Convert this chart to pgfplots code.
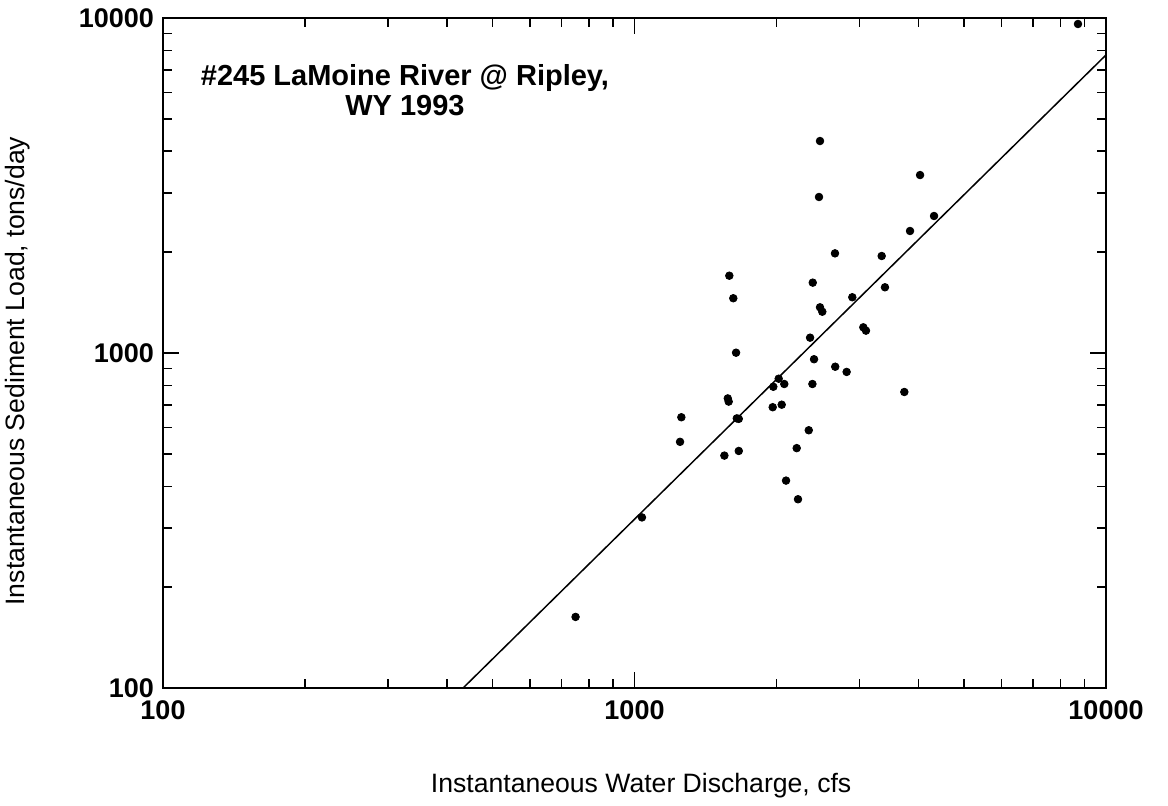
\documentclass[border=0pt]{standalone}
\usepackage{fontspec}
\setmainfont{Liberation Sans}
\usepackage{pgfplots}
\pgfplotsset{compat=1.18}
\begin{document}
\begin{tikzpicture}
\begin{axis}[
  name=ax,
  scale only axis, width=471.5pt, height=335pt,
  xmode=log, ymode=log,
  xmin=100, xmax=10000, ymin=100, ymax=10000,
  xtick={100,1000,10000}, xticklabels={100,1000,10000},
  ytick={100,1000,10000}, yticklabels={100,1000,10000},
  minor xtick={200,300,400,500,600,700,800,900,2000,3000,4000,5000,6000,7000,8000,9000},
  minor ytick={200,300,400,500,600,700,800,900,2000,3000,4000,5000,6000,7000,8000,9000},
  tick align=inside,
  major tick length=8pt, minor tick length=4.5pt,
  axis line style={line width=1pt},
  every tick/.style={black, line width=0.8pt},
  tick label style={font=\fontsize{13.5}{16}\selectfont\bfseries},
  xticklabel style={yshift=-3pt},
  yticklabel style={xshift=-1pt},
  xlabel={Instantaneous Water Discharge, cfs},
  ylabel={Instantaneous Sediment Load, tons/day},
  label style={font=\fontsize{13.3}{15}\selectfont},
  xlabel style={at={(axis description cs:0.507,-0.145)}, anchor=center},
  ylabel style={at={(axis description cs:-0.1538,0.473)}, anchor=center, rotate=0},
  clip=true,
]
\addplot[only marks, mark=*, mark size=1.9pt, black] coordinates {
(2474,4293) (4033,3398) (2462,2922) (4318,2564) (3841,2313) (8721,9596)
(2662,1984) (3344,1948) (1589,1701) (2388,1622) (1620,1457) (3398,1571)
(2897,1467) (2474,1369) (2502,1328) (3057,1193) (3097,1166) (2357,1111)
(1642,1002) (2403,958) (2665,910) (2818,878) (3735,765) (2022,838)
(1970,793) (2078,808) (2384,808) (1577,732) (1584,716) (1964,689)
(2052,701) (1648,638) (1664,636) (1257,643) (1249,543) (2342,588)
(1551,494) (1664,510) (2208,520) (2096,416) (2222,366) (1037,323)
(750,163)
};
\addplot[no marks, black, line width=0.75pt] coordinates {(433,100) (10000,7757)};
\node[align=center, font=\fontsize{14.5}{15}\selectfont\bfseries, inner sep=0pt] at (axis description cs:0.2566,0.8925)
  {\#245 LaMoine River @ Ripley,\\WY 1993};
\end{axis}
\pgfresetboundingbox
\path[use as bounding box] ([shift={(-81.5pt,-58.5pt)}]ax.south west) rectangle ([shift={(31pt,9pt)}]ax.north east);
\end{tikzpicture}
\end{document}
